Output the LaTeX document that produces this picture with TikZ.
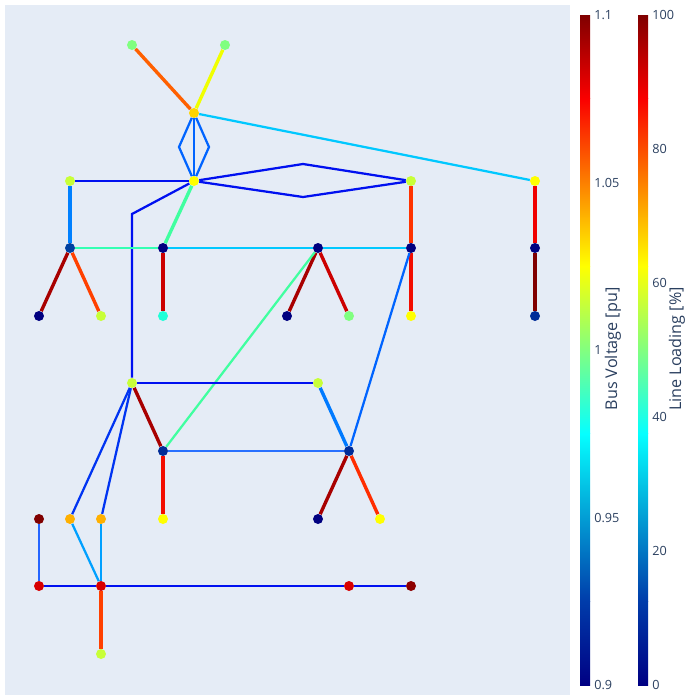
\documentclass[tikz,border=0pt]{standalone}
\usepackage{fontspec}
\setmainfont{Open Sans}
\usetikzlibrary{positioning}
\definecolor{PlotBg}{HTML}{E5ECF6}
\definecolor{AxisText}{HTML}{2A3F5F}
\definecolor{JetA}{RGB}{0,0,131}
\definecolor{JetB}{RGB}{0,60,170}
\definecolor{JetC}{RGB}{5,255,255}
\definecolor{JetD}{RGB}{255,255,0}
\definecolor{JetE}{RGB}{250,0,0}
\definecolor{JetF}{RGB}{128,0,0}
% bus colours
\definecolor{VGreen}{HTML}{80FF80}
\definecolor{VGold}{HTML}{FFD400}
\definecolor{VYellow}{HTML}{FFFF00}
\definecolor{VLime}{HTML}{C8FF38}
\definecolor{VBlue}{HTML}{0040A0}
\definecolor{VNavy}{HTML}{000080}
\definecolor{VAqua}{HTML}{20FFD8}
\definecolor{VDeep}{HTML}{002C98}
\definecolor{VMaroon}{HTML}{800000}
\definecolor{VOrange}{HTML}{FFB000}
\definecolor{VRed}{HTML}{D80000}
% line colours
\definecolor{LOrange}{HTML}{FF6000}
\definecolor{LYellow}{HTML}{F0FF00}
\definecolor{LAzure}{HTML}{0064FF}
\definecolor{LSky}{HTML}{00C8FF}
\definecolor{LBlue}{HTML}{0010F0}
\definecolor{LMint}{HTML}{40FFA0}
\definecolor{LMid}{HTML}{0080FF}
\definecolor{LRust}{HTML}{FF4000}
\definecolor{LRed}{HTML}{F00000}
\definecolor{LDark}{HTML}{A80000}
\definecolor{LMaroon}{HTML}{800000}
\definecolor{LPale}{HTML}{2870FF}

\begin{document}
\begin{tikzpicture}[
  x=0.025cm, y=-0.025cm,
  bus/.style={circle, inner sep=0pt, minimum size=0.25cm, draw=none},
  heavy/.style={line width=2.4pt},
  light/.style={line width=1.6pt},
  tick/.style={font=\fontsize{9}{11}\selectfont, text=AxisText, anchor=west, inner sep=0pt},
  bartitle/.style={font=\fontsize{11.5}{13}\selectfont, text=AxisText, rotate=90, inner sep=0pt}
]
\useasboundingbox (0,0) rectangle (700,700);
\fill[PlotBg] (5,5) rectangle (570,695);

\node[bus, fill=VGreen] (A1) at (132,45) {};
\node[bus, fill=VGreen] (A2) at (225,45) {};
\node[bus, fill=VGold] (B) at (194,113) {};
\node[bus, fill=VYellow] (C) at (194,181) {};
\node[bus, fill=VLime] (D) at (70,181) {};
\node[bus, fill=VLime] (E) at (411,181) {};
\node[bus, fill=VYellow] (F) at (535,181) {};
\node[bus, fill=VBlue] (G) at (70,248) {};
\node[bus, fill=VNavy] (H) at (163,248) {};
\node[bus, fill=VNavy] (I) at (318,248) {};
\node[bus, fill=VNavy] (J) at (411,248) {};
\node[bus, fill=VNavy] (K) at (535,248) {};
\node[bus, fill=VNavy] (L1) at (39,316) {};
\node[bus, fill=VLime] (L2) at (101,316) {};
\node[bus, fill=VAqua] (L3) at (163,316) {};
\node[bus, fill=VNavy] (L4) at (287,316) {};
\node[bus, fill=VGreen] (L5) at (349,316) {};
\node[bus, fill=VYellow] (L6) at (411,316) {};
\node[bus, fill=VDeep] (L7) at (535,316) {};
\node[bus, fill=VLime] (M) at (132,383) {};
\node[bus, fill=VLime] (N) at (318,383) {};
\node[bus, fill=VDeep] (O) at (163,451) {};
\node[bus, fill=VDeep] (P) at (349,451) {};
\node[bus, fill=VMaroon] (Q1) at (39,519) {};
\node[bus, fill=VOrange] (Q2) at (70,519) {};
\node[bus, fill=VOrange] (Q3) at (101,519) {};
\node[bus, fill=VYellow] (Q4) at (163,519) {};
\node[bus, fill=VNavy] (Q5) at (318,519) {};
\node[bus, fill=VYellow] (Q6) at (380,519) {};
\node[bus, fill=VRed] (R1) at (39,586) {};
\node[bus, fill=VRed] (R2) at (101,586) {};
\node[bus, fill=VRed] (R3) at (349,586) {};
\node[bus, fill=VMaroon!90!red] (R4) at (411,586) {};
\node[bus, fill=VLime] (S) at (101,654) {};

\coordinate (bl) at (179,147);
\coordinate (br) at (209,147);
\coordinate (eu) at (303,164);
\coordinate (ed) at (303,197);
\coordinate (mk) at (132,214);

\draw[heavy, LOrange] (A1) -- (B);
\draw[heavy, LYellow] (A2) -- (B);
\draw[light, LAzure] (B) -- (bl) -- (C);
\draw[light, LAzure] (B) -- (br) -- (C);
\draw[light, LAzure] (B) -- (C);
\draw[light, LSky] (B) -- (F);
\draw[light, LBlue] (D) -- (C);
\draw[light, LBlue] (C) -- (eu) -- (E);
\draw[light, LBlue] (C) -- (ed) -- (E);
\draw[light, LBlue] (C) -- (mk) -- (M);
\draw[heavy, LMint] (C) -- (H);
\draw[heavy, LMid] (D) -- (G);
\draw[light, LMint!80!cyan] (G) -- (H);
\draw[light, LSky] (H) -- (I);
\draw[light, LSky] (I) -- (J);
\draw[heavy, LDark] (G) -- (L1);
\draw[heavy, LRust] (G) -- (L2);
\draw[heavy, LRed!85!black] (H) -- (L3);
\draw[heavy, LDark] (I) -- (L4);
\draw[heavy, LRed!85!black] (I) -- (L5);
\draw[heavy, LRust!80!red] (E) -- (J);
\draw[heavy, LRed!80!LRust] (J) -- (L6);
\draw[heavy, LRed] (F) -- (K);
\draw[heavy, LMaroon] (K) -- (L7);
\draw[light, LMint] (I) -- (O);
\draw[light, LAzure] (J) -- (P);
\draw[light, LBlue] (M) -- (N);
\draw[heavy, LDark] (M) -- (O);
\draw[heavy, LMid!80!LAzure] (N) -- (P);
\draw[light, LPale] (O) -- (P);
\draw[heavy, LRed!80!LRust] (O) -- (Q4);
\draw[heavy, LDark] (P) -- (Q5);
\draw[heavy, LRust!70!red] (P) -- (Q6);
\draw[light, LBlue!85!cyan] (M) -- (Q2);
\draw[light, LBlue!85!cyan] (M) -- (Q3);
\draw[light, LPale!90!blue] (Q1) -- (R1);
\draw[light, LSky!80!blue] (Q2) -- (R2);
\draw[light, LSky!80!blue] (Q3) -- (R2);
\draw[light, LBlue] (R1) -- (R2);
\draw[light, LBlue] (R2) -- (R3);
\draw[light, LBlue] (R3) -- (R4);
\draw[heavy, LRust] (R2) -- (S);

% colour bars
\foreach \bx in {580,638}
  \foreach \ya/\yb/\ca/\cb in {685/601.25/JetA/JetB, 601.25/433.75/JetB/JetC, 433.75/266.25/JetC/JetD, 266.25/98.75/JetD/JetE, 98.75/15/JetE/JetF}
    \shade[bottom color=\ca, top color=\cb] (\bx,\ya) rectangle (\bx+10,\yb);

\node[tick] (v110) at (594,15) {1.1};
\node[tick] (v105) at (594,182.5) {1.05};
\node[tick] (v100) at (594,350) {1};
\node[tick] (v095) at (594,517.5) {0.95};
\node[tick] (v090) at (594,685) {0.9};
\node[bartitle] (vt) at (613,349) {Bus Voltage [pu]};

\node[tick] (p100) at (652,15) {100};
\node[tick] (p80) at (652,149) {80};
\node[tick] (p60) at (652,283) {60};
\node[tick] (p40) at (652,417) {40};
\node[tick] (p20) at (652,551) {20};
\node[tick] (p0) at (652,685) {0};
\node[bartitle] (pt) at (677,349) {Line Loading [\%]};

\end{tikzpicture}
\end{document}
